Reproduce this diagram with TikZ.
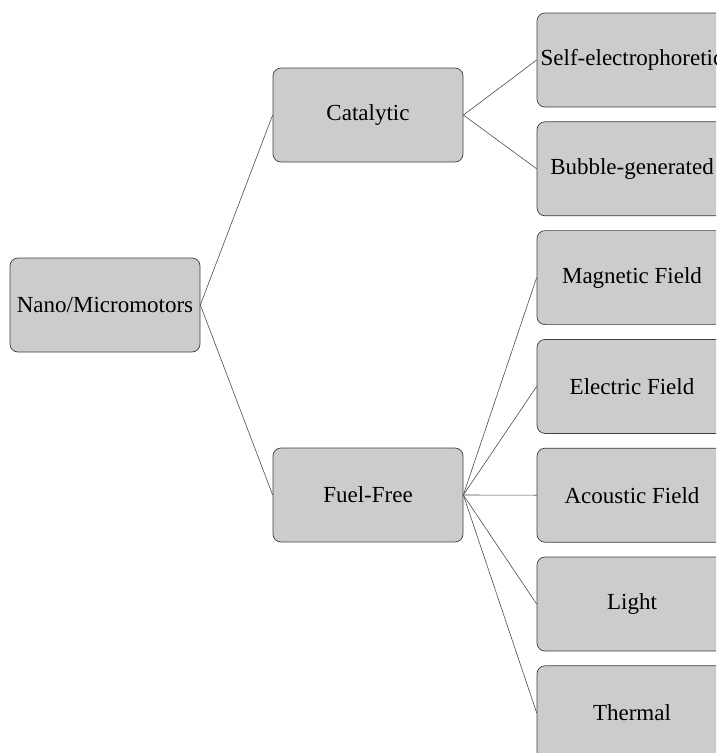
\documentclass[tikz,border=0pt]{standalone}
\usepackage{fontspec}
\setmainfont{Liberation Serif}
\tikzset{
  box/.style={draw=black!75, line width=0.7pt, fill=black!20, rounded corners=8pt,
    minimum width=190pt, minimum height=94pt, inner sep=2pt,
    font=\fontsize{23}{27}\selectfont, text=black},
  link/.style={draw=black!70, line width=0.6pt}
}
\begin{document}
\begin{tikzpicture}[x=1pt,y=-1pt]
\useasboundingbox (0,0) rectangle (716,753);
\clip (0,0) rectangle (716,753);
\node[box] (root) at (105,305) {Nano/Micromotors};
\node[box] (cat) at (368,115) {Catalytic};
\node[box] (ff) at (368,495) {Fuel-Free};
\node[box] (self) at (632,60) {Self-electrophoretic};
\node[box] (bub) at (632,168.8) {Bubble-generated};
\node[box] (mag) at (632,277.6) {Magnetic Field};
\node[box] (ele) at (632,386.4) {Electric Field};
\node[box] (aco) at (632,495.2) {Acoustic Field};
\node[box] (lig) at (632,604) {Light};
\node[box] (the) at (632,712.8) {Thermal};
\draw[link] (root.east) -- (cat.west);
\draw[link] (root.east) -- (ff.west);
\draw[link] (cat.east) -- (self.west);
\draw[link] (cat.east) -- (bub.west);
\draw[link] (ff.east) -- (mag.west);
\draw[link] (ff.east) -- (ele.west);
\draw[link] (ff.east) -- (aco.west);
\draw[link] (ff.east) -- (lig.west);
\draw[link] (ff.east) -- (the.west);
\end{tikzpicture}
\end{document}
